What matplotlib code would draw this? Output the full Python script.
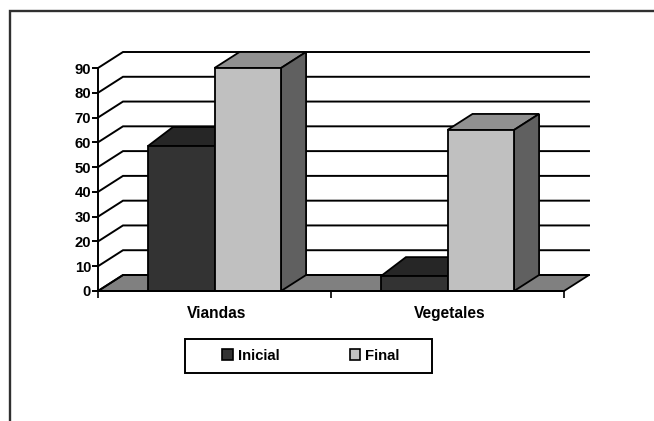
import matplotlib
matplotlib.use('Agg')
import matplotlib.pyplot as plt
from matplotlib.lines import Line2D
from matplotlib.patches import Patch, Polygon, Rectangle
from matplotlib.transforms import ScaledTranslation

categories = ['Viandas', 'Vegetales']
inicial = [58.5, 6]
final = [90, 65]
y_ticks = [0, 10, 20, 30, 40, 50, 60, 70, 80, 90]

W, H = 654, 421
INK = '#000000'
FONT = 10.7

plt.rcParams['font.family'] = 'Liberation Sans'
plt.rcParams['font.weight'] = 'bold'


def px(x, y):
    # pixel position from top left to figure fraction
    return x / W, 1 - y / H


fig = plt.figure(figsize=(W / 100, H / 100), dpi=100)
left, top = px(98, 68)
right, bottom = px(564, 291)
ax = fig.add_axes([left, bottom, right - left, top - bottom])
ax.set_xlim(0, len(categories))
ax.set_ylim(0, 90)

# depth of the fake 3d box, in data units
ppu = 223 / 90
dx = 25 / 233
dy = 16 / ppu
bar_w = 1 / 3.5


def poly(points, color, z):
    ax.add_patch(Polygon(points, closed=True, facecolor=color, edgecolor=INK,
                         linewidth=1.3, joinstyle='miter', clip_on=False, zorder=z))


def bar(x, v, front, top_c, side, z, top_dy):
    w = bar_w
    poly([(x, 0), (x + w, 0), (x + w, v), (x, v)], front, z + 0.2)
    poly([(x, v), (x + w, v), (x + w + dx, v + top_dy), (x + dx, v + top_dy)], top_c, z)
    poly([(x + w, 0), (x + w + dx, dy), (x + w + dx, v + dy), (x + w, v)], side, z + 0.1)


# floor and back wall lines
poly([(0, 0), (2, 0), (2 + dx, dy), (dx, dy)], '#808080', 1)
for t in y_ticks:
    ax.plot([0, dx, 2 + dx], [t, t + dy, t + dy], color=INK, lw=1.4,
            solid_joinstyle='miter', clip_on=False, zorder=2)

for i in range(len(categories)):
    # the dark tops sit a little deeper than the light ones in the original
    bar(i + 0.5 - bar_w, inicial[i], '#333333', '#262626', '#1a1a1a', 3, 19 / ppu)
    bar(i + 0.5, final[i], '#c0c0c0', '#909090', '#606060', 4, dy)

ax.patch.set_visible(False)
for s in ['top', 'right']:
    ax.spines[s].set_visible(False)
for s in ['left', 'bottom']:
    ax.spines[s].set_linewidth(1.4)
    ax.spines[s].set_zorder(6)

ax.set_yticks(y_ticks)
ax.set_xticks([0, 1, 2])
ax.set_xticks([0.5, 1.5], labels=categories, minor=True)
ax.set_xticklabels([])
ax.tick_params(axis='y', length=4, width=1.4, pad=1, labelsize=FONT)
ax.tick_params(axis='x', which='major', length=5, width=1.2, direction='out')
ax.tick_params(axis='x', which='minor', length=0, pad=11, labelsize=11.2)
for lab in ax.get_xticklabels(minor=True):
    lab.set_transform(lab.get_transform() + ScaledTranslation(2 / 100, 0, fig.dpi_scale_trans))

# legend box is drawn apart, it is much wider than the entries
lx, ly = px(185, 372.5)
lw_f, lh_f = 247 / W, 33.5 / H
fig.add_artist(Rectangle((lx, ly), lw_f, lh_f, transform=fig.transFigure,
                         facecolor='white', edgecolor=INK, linewidth=1.4))
handles = [Patch(facecolor='#333333', edgecolor=INK, linewidth=1.2),
           Patch(facecolor='#c0c0c0', edgecolor=INK, linewidth=1.2)]
leg = fig.legend(handles, ['Inicial', 'Final'], ncol=2, frameon=False,
                 loc='center', bbox_to_anchor=px(311, 355.5), fontsize=FONT,
                 handlelength=0.7, handleheight=0.7, handletextpad=0.35,
                 columnspacing=4.7, borderpad=0)
leg.set_zorder(5)

# page border, only top and left show
fig.add_artist(Line2D([10 / W, 10 / W, 1], [0, 1 - 11 / H, 1 - 11 / H],
                      transform=fig.transFigure, color='#303030', lw=1.7,
                      solid_joinstyle='miter'))

fig.savefig('out.png', dpi=100)
